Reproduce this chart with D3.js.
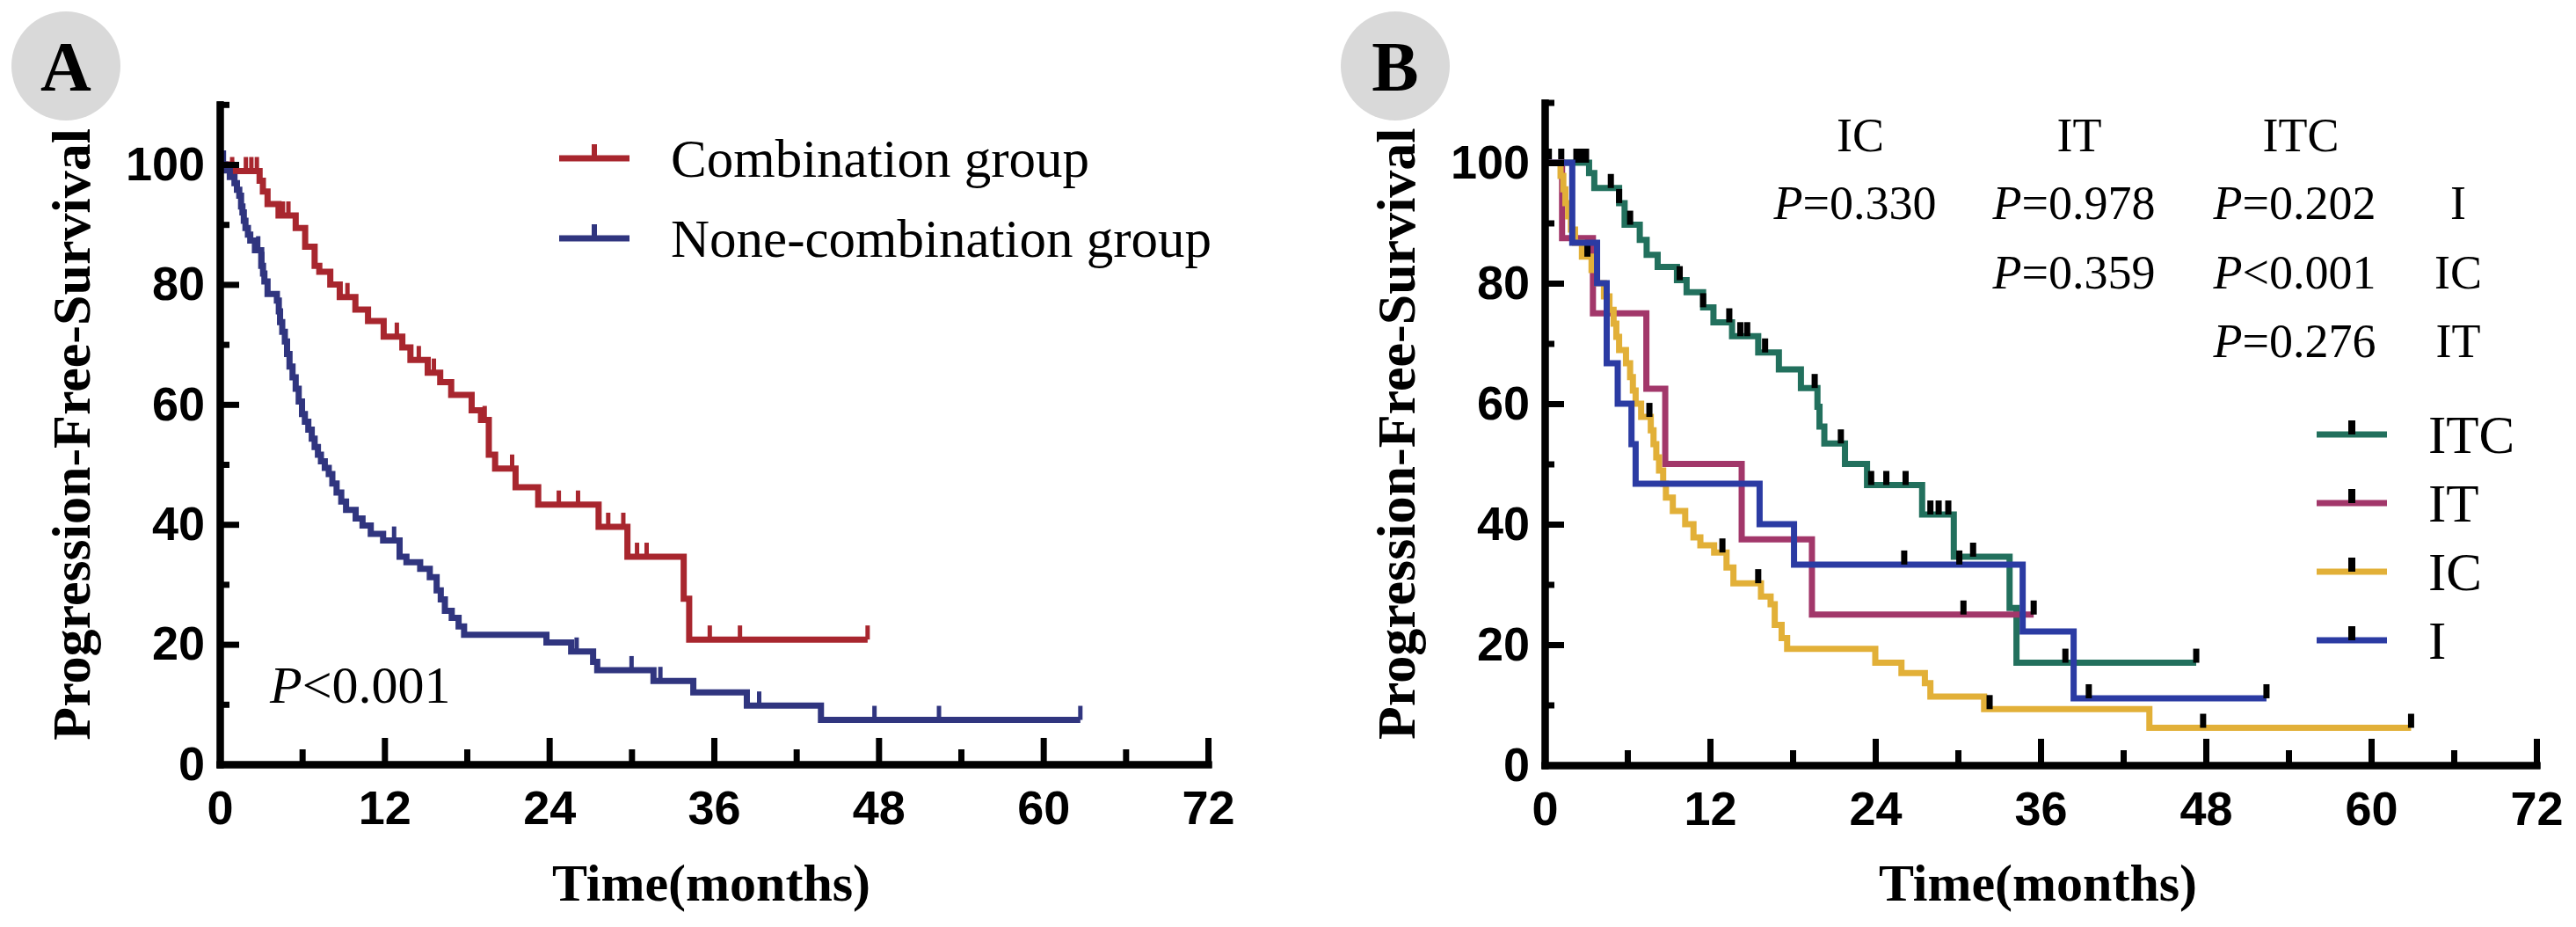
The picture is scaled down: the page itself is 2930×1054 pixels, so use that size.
<!DOCTYPE html>
<html>
<head>
<meta charset="utf-8">
<script src="https://cdn.jsdelivr.net/npm/d3@7"></script>
<style>
  html, body { margin: 0; padding: 0; background: #fff; }
  svg { display: block; }
</style>
</head>
<body>
<svg id="chart" width="2930" height="1054"></svg>
<script>
// axis ticks
const xTicks = [0, 12, 24, 36, 48, 60, 72];
const xMinor = [6, 18, 30, 42, 54, 66];
const yTicks = [0, 20, 40, 60, 80, 100];
const yMinor = [10, 30, 50, 70, 90, 110];

// panel A: [time, survival after that time]
const comboSteps = [[0,100],[0.85,98.9],[2.9,97.3],[3.14,95.5],[3.48,93.4],[4.28,91.5],[5.53,89.4],[6.22,86.3],[6.91,83.1],[7.25,82.1],[8.05,80.0],[8.74,77.9],[9.88,75.8],[10.8,73.9],[11.94,71.3],[13.3,69.5],[13.89,67.4],[15.15,65.3],[16.06,63.7],[16.86,61.6],[18.35,59.0],[19.03,57.4],[19.6,51.6],[20.06,49.3],[21.55,46.2],[23.2,43.3],[27.6,39.6],[29.7,34.6],[33.8,27.6],[34.2,20.8]];
const comboCensor = [0.9, 1.9, 2.3, 2.7, 4.6, 5.0, 9.3, 12.9, 14.5, 15.6, 19.3, 21.3, 24.7, 26.1, 28.3, 29.4, 30.4, 31.1, 35.7, 37.9, 47.2];
const comboEnd = 47.2;

const noneSteps = [[0,100],[0.4,99.0],[0.73,97.9],[1.07,96.9],[1.25,95.8],[1.42,94.8],[1.55,93.0],[1.65,92.0],[1.75,90.6],[1.87,89.4],[2.05,88.3],[2.22,87.3],[2.56,85.7],[3.02,83.1],[3.15,81.8],[3.25,80.5],[3.48,78.4],[4.16,77.3],[4.3,75.5],[4.39,73.7],[4.55,72.1],[4.74,70.5],[4.9,68.4],[5.08,66.3],[5.3,64.5],[5.53,62.6],[5.75,60.5],[5.99,58.4],[6.2,57.1],[6.45,55.8],[6.7,54.3],[6.91,52.9],[7.15,51.6],[7.37,50.5],[7.65,49.4],[7.94,48.4],[8.2,46.8],[8.51,45.3],[8.85,43.8],[9.2,42.4],[9.9,41.0],[10.4,39.8],[11.0,38.4],[11.9,37.3],[13.1,34.6],[13.6,33.7],[14.6,32.6],[15.3,31.2],[15.8,29.0],[16.1,27.5],[16.4,25.6],[16.9,24.4],[17.4,23.0],[17.8,21.6],[23.8,20.3],[25.6,18.8],[27.2,17.1],[27.5,15.7],[31.6,13.9],[34.5,12.0],[38.4,9.8],[43.8,7.4]];
const noneCensor = [0.3, 2.8, 3.1, 12.7, 26.0, 30.0, 32.1, 39.3, 47.7, 52.4, 62.7];
const noneEnd = 62.7;

// panel B
const itcSteps = [[0,100],[3.22,98.3],[3.6,95.8],[5.4,93.3],[5.8,89.7],[6.9,87.2],[7.4,84.7],[8.2,82.7],[9.6,80.5],[10.3,78.5],[11.5,76.0],[12.25,73.5],[13.6,71.2],[15.5,68.5],[17.0,65.7],[18.6,62.6],[19.8,59.5],[19.95,56.2],[20.3,53.4],[21.8,50.0],[23.4,46.5],[27.4,41.6],[29.7,34.6],[33.75,26.1],[34.25,17.0]];
const itcCensor = [0.3, 1.2, 2.3, 2.6, 3.0, 4.8, 5.4, 6.2, 9.8, 11.5, 13.4, 14.2, 14.7, 16.0, 19.6, 21.5, 23.7, 24.8, 26.2, 28.0, 28.6, 29.3, 31.1, 37.8, 47.3];
const itcEnd = 47.3;

const itSteps = [[0,100],[1.26,87.5],[3.5,75],[7.38,62.5],[8.75,50],[14.3,37.5],[19.4,25]];
const itCensor = [30.4, 35.5];
const itEnd = 35.5;

const icSteps = [[0,100],[1.15,97.8],[1.35,95.6],[1.5,93.3],[1.7,91.1],[1.9,88.9],[2.2,86.7],[2.7,84.4],[3.4,82.2],[3.8,80.0],[4.3,77.8],[4.7,75.6],[5.0,73.3],[5.2,71.1],[5.4,68.9],[5.9,66.7],[6.2,64.4],[6.4,62.2],[6.6,60.0],[7.0,57.8],[7.7,55.6],[7.9,53.3],[8.1,51.1],[8.3,48.9],[8.6,46.7],[8.8,44.4],[9.3,42.2],[10.2,40.0],[10.8,37.8],[11.3,36.5],[12.3,35.3],[13.2,32.8],[13.7,30.2],[15.7,28.0],[16.4,26.7],[16.7,23.3],[17.2,21.1],[17.6,19.3],[24.0,17.0],[25.9,15.3],[27.6,13.6],[28.0,11.4],[31.9,9.3],[43.9,6.2]];
const icCensor = [3.1, 7.6, 12.9, 15.5, 32.3, 47.8, 62.9];
const icEnd = 62.9;

const iSteps = [[0,100],[2.0,86.7],[3.8,80],[4.5,66.7],[5.3,60],[6.3,53.3],[6.6,46.7],[15.6,40],[18.1,33.3],[34.7,22.2],[38.4,11.1]];
const iCensor = [26.1, 30.1, 39.5, 52.4];
const iEnd = 52.4;

const pTable = [
  { col: 0, row: 0, text: "=0.330" },
  { col: 1, row: 0, text: "=0.978" },
  { col: 2, row: 0, text: "=0.202" },
  { col: 1, row: 1, text: "=0.359" },
  { col: 2, row: 1, text: "<0.001" },
  { col: 2, row: 2, text: "=0.276" }
];
const pHeaders = ["IC", "IT", "ITC"];
const pRowLabels = ["I", "IC", "IT"];

const svg = d3.select("#chart");
svg.append("rect").attr("width", 2930).attr("height", 1054).attr("fill", "#fff");

const SANS = "'Liberation Sans', Arial, sans-serif";
const SERIF = "'Liberation Serif', 'Times New Roman', serif";

const levelAt = (steps, t) => {
  let v = steps[0][1];
  for (let i = 0; i < steps.length; i++) {
    if (steps[i][0] <= t) v = steps[i][1];
  }
  return v;
};

const drawPanel = (p) => {
  const x = d3.scaleLinear().domain([0, 72]).range([p.left, p.right]);
  const unit = (p.bottom - p.top100) / 100;
  const y = d3.scaleLinear().domain([0, 110]).range([p.bottom, p.bottom - 110 * unit]);
  const g = svg.append("g");

  // panel letter
  g.append("circle").attr("cx", p.badgeX).attr("cy", 75).attr("r", 62).attr("fill", "#d9d9d9");
  g.append("text").attr("x", p.badgeX).attr("y", 103).attr("text-anchor", "middle")
    .attr("font-family", SERIF).attr("font-weight", "bold").attr("font-size", 80)
    .text(p.letter);

  // curves
  p.series.forEach((s) => {
    const pts = s.steps.concat([[s.end, s.steps[s.steps.length - 1][1]]]);
    const line = d3.line().x(d => x(d[0])).y(d => y(d[1])).curve(d3.curveStepAfter);
    g.append("path").attr("d", line(pts)).attr("fill", "none")
      .attr("stroke", s.color).attr("stroke-width", 7);
    g.selectAll(null).data(s.censor).enter().append("line")
      .attr("x1", d => x(d)).attr("x2", d => x(d))
      .attr("y1", d => y(levelAt(s.steps, d)))
      .attr("y2", d => y(levelAt(s.steps, d)) - 16)
      .attr("stroke", p.censorColor || s.color)
      .attr("stroke-width", p.censorWidth);
  });

  // axes
  const styleAxis = (sel, w) => {
    sel.select(".domain").attr("stroke", "#000").attr("stroke-width", 8).attr("stroke-linecap", "square");
    sel.selectAll(".tick line").attr("stroke", "#000").attr("stroke-width", w);
    sel.selectAll(".tick text").attr("fill", "#000").attr("font-family", SANS)
      .attr("font-weight", "bold").attr("font-size", 54);
  };
  const xMin = g.append("g").attr("transform", `translate(0,${p.bottom})`)
    .call(d3.axisBottom(x).tickValues(xMinor).tickSize(-17).tickSizeOuter(0).tickFormat(""));
  styleAxis(xMin, 7);
  const xMaj = g.append("g").attr("transform", `translate(0,${p.bottom})`)
    .call(d3.axisBottom(x).tickValues(xTicks).tickSize(-30).tickSizeOuter(0).tickPadding(30));
  styleAxis(xMaj, 7);
  const yMin = g.append("g").attr("transform", `translate(${p.left},0)`)
    .call(d3.axisLeft(y).tickValues(yMinor).tickSize(-11).tickSizeOuter(0).tickFormat(""));
  styleAxis(yMin, 7);
  const yMaj = g.append("g").attr("transform", `translate(${p.left},0)`)
    .call(d3.axisLeft(y).tickValues(yTicks).tickSize(-22).tickSizeOuter(0).tickPadding(17));
  styleAxis(yMaj, 7);

  // axis titles
  g.append("text")
    .attr("transform", `translate(${p.left - 148},${(p.bottom + y(110)) / 2}) rotate(-90)`)
    .attr("text-anchor", "middle").attr("font-family", SERIF).attr("font-weight", "bold")
    .attr("font-size", 62).text("Progression-Free-Survival");
  g.append("text").attr("x", (p.left + p.right) / 2 - 3).attr("y", 1024)
    .attr("text-anchor", "middle").attr("font-family", SERIF).attr("font-weight", "bold")
    .attr("font-size", 60).text("Time(months)");

  // legend
  p.series.forEach((s, i) => {
    const ly = p.legend.y0 + i * p.legend.dy;
    const lx = p.legend.x;
    g.append("line").attr("x1", lx).attr("x2", lx + 80).attr("y1", ly).attr("y2", ly)
      .attr("stroke", s.color).attr("stroke-width", 7);
    g.append("line").attr("x1", lx + 40).attr("x2", lx + 40).attr("y1", ly).attr("y2", ly - 16)
      .attr("stroke", p.censorColor || s.color).attr("stroke-width", p.censorWidth + 1);
    g.append("text").attr("x", lx + 127).attr("y", ly + 21)
      .attr("font-family", SERIF).attr("font-size", 61).text(s.name);
  });
  return g;
};

const gA = drawPanel({
  letter: "A", badgeX: 75, left: 250, right: 1374, bottom: 869, top100: 187,
  censorWidth: 5,
  legend: { x: 636, y0: 180, dy: 91 },
  series: [
    { name: "Combination group", color: "#a8262e", steps: comboSteps, censor: comboCensor, end: comboEnd },
    { name: "None-combination group", color: "#30357f", steps: noneSteps, censor: noneCensor, end: noneEnd }
  ]
});

const pA = gA.append("text").attr("x", 307).attr("y", 799)
  .attr("font-family", SERIF).attr("font-size", 60);
pA.append("tspan").attr("font-style", "italic").text("P");
pA.append("tspan").text("<0.001");

const gB = drawPanel({
  letter: "B", badgeX: 1587, left: 1757, right: 2885, bottom: 870, top100: 185,
  censorColor: "#000", censorWidth: 7,
  legend: { x: 2635, y0: 494, dy: 78 },
  series: [
    { name: "ITC", color: "#22705d", steps: itcSteps, censor: itcCensor, end: itcEnd },
    { name: "IT", color: "#a2376a", steps: itSteps, censor: itCensor, end: itEnd },
    { name: "IC", color: "#e2b038", steps: icSteps, censor: icCensor, end: icEnd },
    { name: "I", color: "#2b3ba3", steps: iSteps, censor: iCensor, end: iEnd }
  ]
});

// pairwise p-value table
const colX = [2110, 2359, 2610];
const headX = [2116, 2365, 2617];
const rowY = [249, 328, 406];
gB.selectAll(null).data(pHeaders).enter().append("text")
  .attr("x", (d, i) => headX[i]).attr("y", 172).attr("text-anchor", "middle")
  .attr("font-family", SERIF).attr("font-size", 54).text(d => d);
pTable.forEach((c) => {
  const t = gB.append("text").attr("x", colX[c.col]).attr("y", rowY[c.row])
    .attr("text-anchor", "middle").attr("font-family", SERIF).attr("font-size", 54);
  t.append("tspan").attr("font-style", "italic").text("P");
  t.append("tspan").text(c.text);
});
gB.selectAll(null).data(pRowLabels).enter().append("text")
  .attr("x", 2796).attr("y", (d, i) => rowY[i]).attr("text-anchor", "middle")
  .attr("font-family", SERIF).attr("font-size", 54).text(d => d);
</script>
</body>
</html>
